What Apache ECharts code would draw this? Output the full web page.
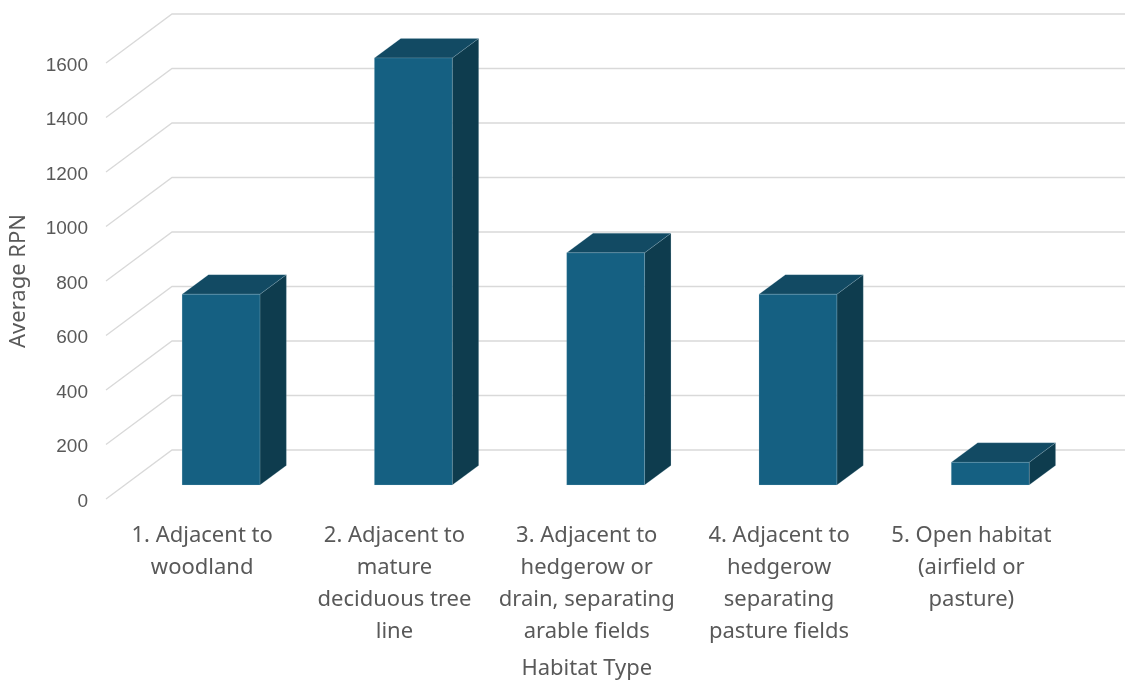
<!DOCTYPE html>
<html>
<head>
<meta charset="utf-8">
<script src="https://cdn.jsdelivr.net/npm/echarts@6/dist/echarts.min.js"></script>
<style>
html,body{margin:0;padding:0;background:#fff;}
#chart{width:1125px;height:681px;}
</style>
</head>
<body>
<div id="chart"></div>
<script>
// ---- data ----
const categories = [
  '1. Adjacent to\nwoodland',
  '2. Adjacent to\nmature\ndeciduous tree\nline',
  '3. Adjacent to\nhedgerow or\ndrain, separating\narable fields',
  '4. Adjacent to\nhedgerow\nseparating\npasture fields',
  '5. Open habitat\n(airfield or\npasture)'
];
const values = [700, 1567, 852, 700, 83];
const yTicks = [0, 200, 400, 600, 800, 1000, 1200, 1400, 1600];
const yAxisTitle = 'Average RPN';
const xAxisTitle = 'Habitat Type';

// ---- 3D look constants (styling) ----
const FLOOR_DX = 66, FLOOR_DY = 49;   // full depth of the floor
const BAR_OFF = 0.286;                // bar front position within depth
const BAR_DEPTH = 0.4;                // bar depth as fraction of floor depth
const BAR_W = 0.405;                  // bar width as fraction of band
const COL_FRONT = '#156082', COL_TOP = '#124A63', COL_SIDE = '#0E3C4E';
const TXT = '#595959';

const chart = echarts.init(document.getElementById('chart'), null, {renderer: 'canvas'});

const option = {
  backgroundColor: '#ffffff',
  animation: false,
  grid: {left: 106, right: 57.5, top: 63, bottom: 182, containLabel: false, outerBoundsMode: 'none'},
  xAxis: {
    type: 'category',
    data: categories,
    name: xAxisTitle,
    nameLocation: 'middle',
    nameGap: 159,
    nameTextStyle: {fontFamily: 'Noto Sans', fontSize: 22, color: TXT},
    axisLine: {show: false},
    axisTick: {show: false},
    splitLine: {show: false},
    axisLabel: {interval: 0, fontFamily: 'Noto Sans', fontSize: 22, lineHeight: 32, color: TXT, margin: 21}
  },
  yAxis: {
    type: 'value',
    min: 0, max: 1600, interval: 200,
    name: yAxisTitle,
    nameLocation: 'middle',
    nameRotate: 90,
    nameGap: 76,
    nameTextStyle: {fontFamily: 'Noto Sans', fontSize: 22, color: TXT},
    axisLine: {show: false},
    axisTick: {show: false},
    splitLine: {show: false},
    axisLabel: {color: TXT, margin: 18,
      formatter: v => '{t|' + v + '}',
      rich: {t: {fontFamily: 'Liberation Sans', fontSize: 19, color: TXT, padding: [5, 0, 0, 0]}}}
  },
  series: [
    {
      type: 'custom',
      name: 'grid',
      z: 1,
      silent: true,
      clip: false,
      data: yTicks.map(v => [0, v]),
      encode: {x: 0, y: 1},
      renderItem: function (params, api) {
        const y = api.coord([0, api.value(1)])[1];
        const x0 = params.coordSys.x;
        const w = api.getWidth();
        return {
          type: 'polyline',
          shape: {points: [[x0, y], [x0 + FLOOR_DX, y - FLOOR_DY], [w, y - FLOOR_DY]]},
          style: {stroke: '#d9d9d9', lineWidth: 1.3, fill: null}
        };
      }
    },
    {
      type: 'custom',
      name: 'Average RPN',
      z: 5,
      clip: false,
      data: values.map((v, i) => [i, v]),
      encode: {x: 0, y: 1},
      renderItem: function (params, api) {
        const base = api.coord([api.value(0), 0]);
        const top = api.coord([api.value(0), api.value(1)]);
        const band = api.size([1, 0])[0];
        const w = band * BAR_W;
        const fx = FLOOR_DX * BAR_OFF, fy = FLOOR_DY * BAR_OFF;
        const dx = FLOOR_DX * BAR_DEPTH, dy = FLOOR_DY * BAR_DEPTH;
        const cx = base[0] + fx;
        const yb = base[1] - fy, yt = top[1] - fy;
        const xl = cx - w / 2, xr = cx + w / 2;
        const edge = 'rgba(190,215,228,0.3)';
        return {
          type: 'group',
          children: [
            {type: 'polygon', shape: {points: [[xr, yb], [xr + dx, yb - dy], [xr + dx, yt - dy], [xr, yt]]},
              style: {fill: COL_SIDE, stroke: edge, lineWidth: 0.6}},
            {type: 'polygon', shape: {points: [[xl, yt], [xl + dx, yt - dy], [xr + dx, yt - dy], [xr, yt]]},
              style: {fill: COL_TOP, stroke: edge, lineWidth: 0.6}},
            {type: 'rect', shape: {x: xl, y: yt, width: w, height: yb - yt},
              style: {fill: COL_FRONT, stroke: edge, lineWidth: 0.6}}
          ]
        };
      }
    }
  ]
};
chart.setOption(option);
</script>
</body>
</html>
